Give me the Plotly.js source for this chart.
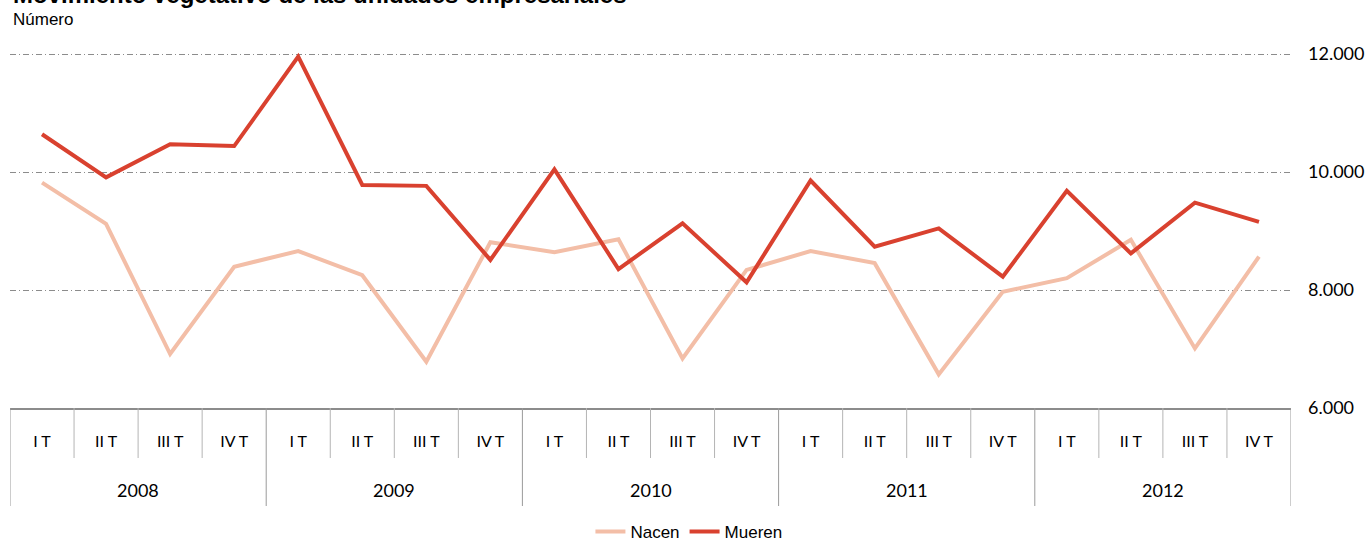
<!DOCTYPE html>
<html><head><meta charset="utf-8">
<script src="https://cdn.plot.ly/plotly-3.0.1.min.js"></script>
<style>html,body{margin:0;padding:0;background:#fff}#chart{width:1368px;height:541px}</style>
</head><body><div id="chart"></div>
<script>
const years = ['2008', '2009', '2010', '2011', '2012'];
const quarters = ['I T', 'II T', 'III T', 'IV T'];
const nacen = [9820, 9120, 6915, 8395, 8660, 8250, 6785, 8810, 8640, 8860, 6840, 8340, 8660, 8455, 6570, 7970, 8200, 8850, 7010, 8565];
const mueren = [10640, 9910, 10470, 10440, 11955, 9780, 9765, 8510, 10045, 8355, 9130, 8130, 9855, 8735, 9045, 8225, 9680, 8620, 9480, 9155];
const yTicks = [6000, 8000, 10000, 12000];
const titleText = 'Movimiento vegetativo de las unidades empresariales';
const subtitleText = 'Número';

const idx = [], qLabels = [];
years.forEach((y, yi) => quarters.forEach((q, qi) => { idx.push(yi * quarters.length + qi); qLabels.push(q); }));

const PLOT_H = 358;   // px, top at 50, bottom (6.000) at 408
const shortLen = -50 / PLOT_H, longLen = -98 / PLOT_H;
const shapes = [];
for (let i = 0; i <= idx.length; i++) {
  const isYear = i % quarters.length === 0;
  shapes.push({type: 'line', xref: 'x', yref: 'paper', x0: i - 0.5, x1: i - 0.5, y0: 0, y1: isYear ? longLen : shortLen,
    line: {color: isYear ? '#9a9a9a' : '#b4b4b4', width: 1}, layer: 'above'});
}
const annotations = years.map((y, yi) => ({
  text: y, xref: 'x', yref: 'paper', x: yi * quarters.length + (quarters.length - 1) / 2, y: -82 / PLOT_H,
  yanchor: 'middle', xanchor: 'center', showarrow: false, font: {family: 'Lato, sans-serif', size: 18, color: '#000'}
}));
annotations.push({text: '<b>' + titleText + '</b>', xref: 'paper', yref: 'paper', x: 0, xshift: 1, y: (408 - 10) / PLOT_H,
  xanchor: 'left', yanchor: 'bottom', showarrow: false, font: {family: 'Liberation Sans, Arial, sans-serif', size: 24, color: '#000'}});
annotations.push({text: subtitleText, xref: 'paper', yref: 'paper', x: 0, xshift: 1, y: (408 - 20) / PLOT_H,
  xanchor: 'left', yanchor: 'middle', showarrow: false, font: {family: 'Liberation Sans, Arial, sans-serif', size: 17, color: '#000'}});

const traces = [
  {x: idx, y: nacen, name: 'Nacen', type: 'scatter', mode: 'lines', line: {color: '#f3bea7', width: 4}},
  {x: idx, y: mueren, name: 'Mueren', type: 'scatter', mode: 'lines', line: {color: '#d9412f', width: 4}}
];

const layout = {
  width: 1368, height: 541,
  margin: {l: 10, r: 77, t: 50, b: 133, autoexpand: false},
  paper_bgcolor: '#fff', plot_bgcolor: '#fff',
  separators: ',.',
  showlegend: true,
  legend: {orientation: 'h', x: 0.53, xanchor: 'center', y: -124 / PLOT_H, yanchor: 'middle',
    font: {family: 'Liberation Sans, Arial, sans-serif', size: 17, color: '#000'}, tracegroupgap: 0},
  xaxis: {range: [-0.5, idx.length - 0.5], tickvals: idx, ticktext: qLabels, ticks: '', showgrid: false, zeroline: false,
    showline: true, linecolor: '#8c8c8c', linewidth: 2, ticklabelstandoff: 18,
    tickfont: {family: 'Lato, sans-serif', size: 16, color: '#000'}, fixedrange: true},
  yaxis: {range: [6000, 6000 + PLOT_H / 0.059], side: 'right', tickvals: yTicks, tickformat: ',d', showgrid: true, gridcolor: '#8c8c8c',
    gridwidth: 1, griddash: '6px,3px,1px,3px', zeroline: false, showline: false, ticks: '', ticklabelstandoff: 16,
    tickfont: {family: 'Lato, sans-serif', size: 18, color: '#000'}, fixedrange: true},
  shapes: shapes, annotations: annotations
};
Plotly.newPlot('chart', traces, layout, {displayModeBar: false, staticPlot: true});
</script></body></html>
